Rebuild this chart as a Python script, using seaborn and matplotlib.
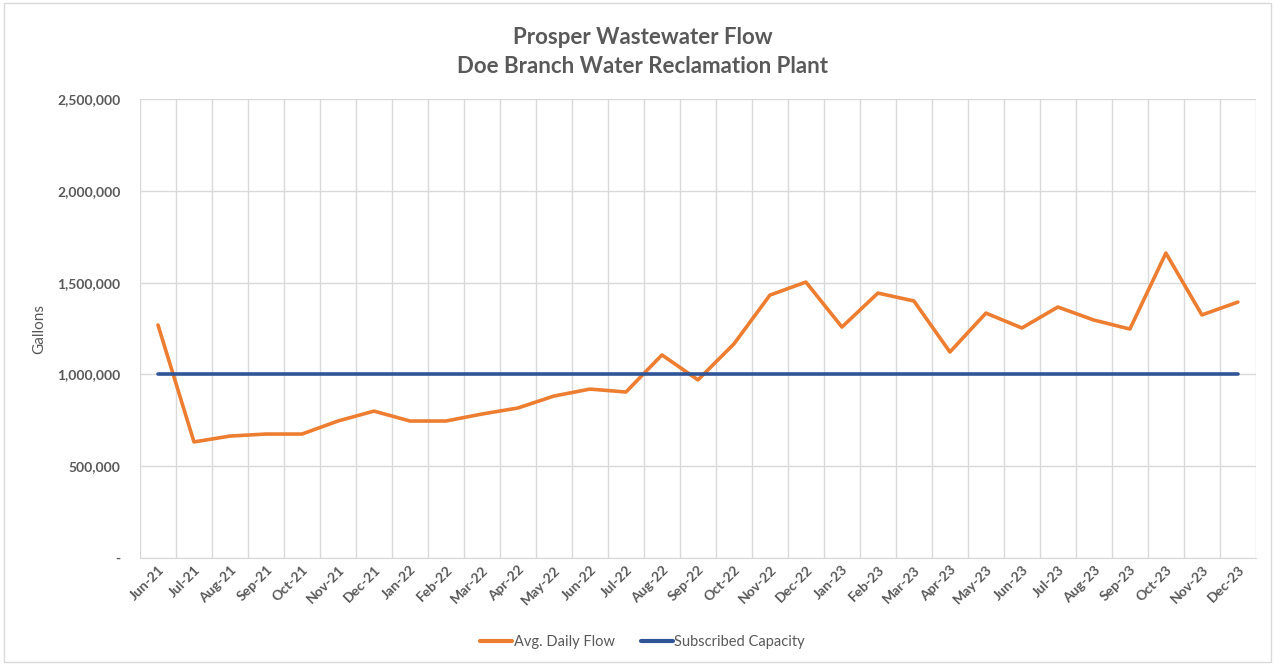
import numpy as np
import pandas as pd
import seaborn as sns
import matplotlib.pyplot as plt
from matplotlib.ticker import FuncFormatter, MultipleLocator, FixedLocator

# monthly data
months = ["Jun-21", "Jul-21", "Aug-21", "Sep-21", "Oct-21", "Nov-21", "Dec-21",
          "Jan-22", "Feb-22", "Mar-22", "Apr-22", "May-22", "Jun-22", "Jul-22",
          "Aug-22", "Sep-22", "Oct-22", "Nov-22", "Dec-22", "Jan-23", "Feb-23",
          "Mar-23", "Apr-23", "May-23", "Jun-23", "Jul-23", "Aug-23", "Sep-23",
          "Oct-23", "Nov-23", "Dec-23"]
avg_flow = [1269000, 632000, 664000, 675000, 675000, 746000, 800000,
            746000, 746000, 784000, 817000, 882000, 920000, 904000,
            1106000, 970000, 1166000, 1432000, 1503000, 1258000, 1443000,
            1400000, 1122000, 1334000, 1253000, 1367000, 1296000, 1247000,
            1661000, 1324000, 1394000]
capacity = [1000000] * len(months)

df = pd.DataFrame({"Month": months, "Avg. Daily Flow": avg_flow,
                   "Subscribed Capacity": capacity})
long = df.melt(id_vars="Month", var_name="Series", value_name="Gallons")

sns.set_style("white")
plt.rcParams["font.family"] = ["Lato", "DejaVu Sans"]
grey = "#595959"

fig = plt.figure(figsize=(12.75, 6.65), dpi=100)
ax = fig.add_axes([0.1098, 0.161, 0.8752, 0.690])

sns.lineplot(data=long, x="Month", y="Gallons", hue="Series",
             palette={"Avg. Daily Flow": "#ED7D31", "Subscribed Capacity": "#2F5597"},
             linewidth=2.6, ax=ax, legend=True, zorder=3)

# gridlines between categories, like Excel
n = len(months)
ax.set_xlim(-0.5, n - 0.5)
ax.xaxis.set_minor_locator(FixedLocator(np.arange(-0.5, n, 1.0)))
ax.grid(which="minor", axis="x", color="#D9D9D9", linewidth=1)
ax.grid(which="major", axis="y", color="#D9D9D9", linewidth=1)
ax.tick_params(axis="x", which="major", length=0, pad=4)
ax.tick_params(axis="x", which="minor", length=4, color="#D9D9D9", direction="out")
ax.tick_params(axis="y", length=0, pad=14)

ax.set_ylim(0, 2500000)
ax.yaxis.set_major_locator(MultipleLocator(500000))
ax.yaxis.set_major_formatter(FuncFormatter(lambda v, p: "-" if v == 0 else f"{v:,.0f}"))
for lab in ax.get_yticklabels():
    lab.set_fontweight("bold")
    lab.set_color(grey)
    lab.set_fontsize(10)
plt.setp(ax.get_xticklabels(), rotation=45, ha="right", rotation_mode="anchor",
         color=grey, fontsize=10, fontweight="bold")

for s in ["top", "right", "left"]:
    ax.spines[s].set_visible(False)
ax.spines["bottom"].set_color("#D9D9D9")

ax.set_xlabel("")
ax.set_ylabel("Gallons", fontsize=11, color=grey, labelpad=8)

fig.text(0.504, 0.944, "Prosper Wastewater Flow", ha="center", va="center",
         fontsize=16, fontweight="bold", color=grey)
fig.text(0.504, 0.900, "Doe Branch Water Reclamation Plant", ha="center", va="center",
         fontsize=16, fontweight="bold", color=grey)

leg = ax.legend(loc="center", bbox_to_anchor=(0.504, 0.034), bbox_transform=fig.transFigure,
                ncol=2, frameon=False, fontsize=10.5, handlelength=2.2,
                handletextpad=0.1, columnspacing=1.8)
for t in leg.get_texts():
    t.set_color(grey)
for l in leg.get_lines():
    l.set_linewidth(3)

fig.patches.append(plt.Rectangle((0.003, 0.005), 0.994, 0.99, transform=fig.transFigure,
                                 fill=False, edgecolor="#D9D9D9", linewidth=1))

fig.savefig("out.png", dpi=100)
